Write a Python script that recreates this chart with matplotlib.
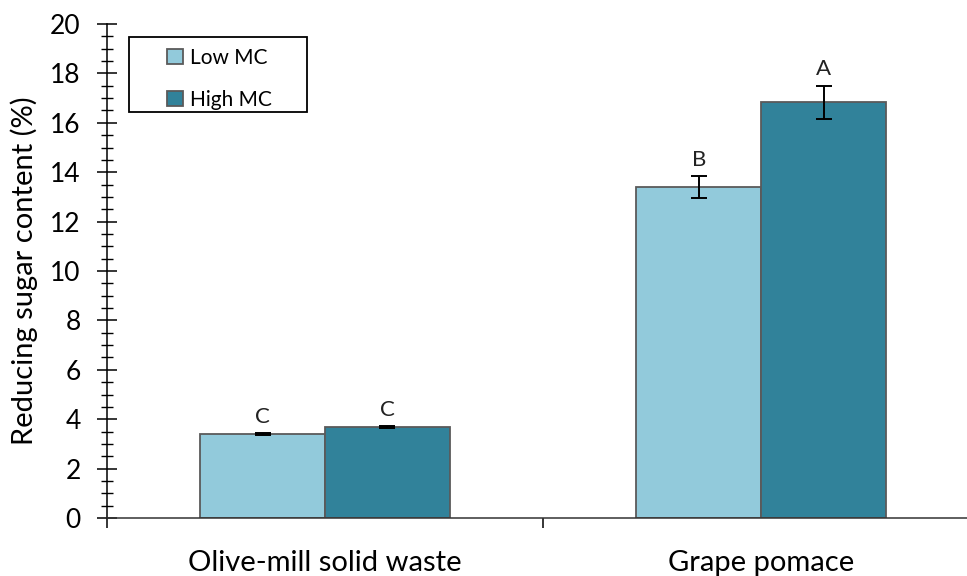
import matplotlib
matplotlib.use("Agg")
import matplotlib.pyplot as plt
from matplotlib.patches import Rectangle
from matplotlib.ticker import MultipleLocator, FixedLocator, NullFormatter
import numpy as np

plt.rcParams['font.family'] = ['Lato', 'DejaVu Sans']

categories = ["Olive-mill solid waste", "Grape pomace"]
series_names = ["Low MC", "High MC"]
low_mc = [3.40, 13.40]
high_mc = [3.68, 16.84]
low_err = [0.05, 0.45]
high_err = [0.05, 0.67]
low_letters = ["C", "B"]
high_letters = ["C", "A"]

colors = ["#92CADB", "#31829A"]
edge = "#5a5a5a"

W, H = 967, 576
fig = plt.figure(figsize=(W / 100, H / 100), dpi=100)
ax = fig.add_axes([0.1107, 0.1007, 0.902, 0.8576])

x = np.arange(len(categories))
w = 0.286
err_kw = dict(ecolor="black", elinewidth=1.4, capsize=6, capthick=1.4)
ax.bar(x - w / 2, low_mc, w, yerr=low_err, color=colors[0], edgecolor=edge,
       linewidth=1.3, label=series_names[0], error_kw=err_kw, zorder=2)
ax.bar(x + w / 2, high_mc, w, yerr=high_err, color=colors[1], edgecolor=edge,
       linewidth=1.3, label=series_names[1], error_kw=err_kw, zorder=2)

for xs, vals, errs, letters in [(x - w / 2, low_mc, low_err, low_letters),
                                (x + w / 2, high_mc, high_err, high_letters)]:
    for xi, v, e, t in zip(xs, vals, errs, letters):
        ax.text(xi, v + e + 0.25, t, ha="center", va="bottom", fontsize=16,
                color="#222222")

ax.set_xlim(-0.5, 1.5)
ax.set_ylim(0, 20)
ax.yaxis.set_major_locator(MultipleLocator(2))
ax.yaxis.set_minor_locator(MultipleLocator(0.5))
ax.tick_params(axis="y", which="major", direction="inout", length=14, width=1.1,
               labelsize=19, pad=12)
ax.tick_params(axis="y", which="minor", direction="inout", length=8.5, width=1)

ax.xaxis.set_major_locator(FixedLocator([-0.5, 0.5, 1.5]))
ax.xaxis.set_major_formatter(NullFormatter())
ax.xaxis.set_minor_locator(FixedLocator(x))
ax.set_xticklabels(categories, minor=True)
ax.tick_params(axis="x", which="major", direction="out", length=7, width=1.1)
ax.tick_params(axis="x", which="minor", length=0, labelsize=21, pad=23)

for s in ["top", "right"]:
    ax.spines[s].set_visible(False)
ax.spines["left"].set_color("black")
ax.spines["left"].set_linewidth(1.1)
ax.spines["bottom"].set_color("#333333")
ax.spines["bottom"].set_linewidth(1.1)

ax.set_ylabel("Reducing sugar content (%)", fontsize=21, labelpad=9)

# legend box with wide side margins
fig.patches.append(Rectangle((129 / W, 1 - 112 / H), 178 / W, 75 / H,
                             transform=fig.transFigure, facecolor="white",
                             edgecolor="black", linewidth=1.3, zorder=3))
leg = fig.legend(loc="upper left", bbox_to_anchor=(167 / W, 1 - 48 / H),
                 fontsize=15, frameon=False, handlelength=0.75,
                 handleheight=0.75, borderpad=0, labelspacing=1.05,
                 handletextpad=0.35, borderaxespad=0)
leg.set_zorder(4)
for h in leg.legend_handles:
    h.set_edgecolor(edge)

fig.savefig("out.png", dpi=100)
